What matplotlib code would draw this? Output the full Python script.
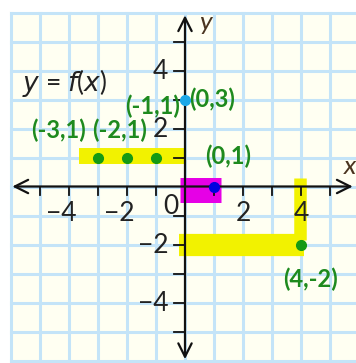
import numpy as np
import matplotlib
matplotlib.use('Agg')
import matplotlib.pyplot as plt

# grid range (units) and axis ticks
grid_min, grid_max = -6, 6
x_tick_labels = [-4, -2, 2, 4]
y_tick_labels = [4, 2, -2, -4]

# points marked on the graph
green_x = [-3, -2, -1, 4]
green_y = [1, 1, 1, -2]
cyan_pt = (0, 3)
blue_pt = (1, 0)

# highlighter strokes: (x0, y0, x1, y1, width in pt, colour)
strokes = [
    (-3.65, 1.05, 0.0, 1.05, 11.5, '#f2f200'),
    (-0.2, -2.0, 4.1, -2.0, 16, '#f2f200'),
    (3.95, 0.3, 3.95, -1.85, 9, '#f2f200'),
    (-0.17, -0.11, 1.24, -0.11, 18, '#e600e6'),
]

# handwritten point labels: (text, x, y)
notes = [
    ('(-3,1)', -5.3, 1.93),
    ('(-2,1)', -3.2, 1.93),
    ('(-1,1)', -2.05, 2.75),
    ('(0,3)', 0.15, 3.0),
    ('(0,1)', 0.7, 1.05),
    ('(4,-2)', 3.4, -3.2),
]

plt.rcParams['font.family'] = ['Lato', 'DejaVu Sans']

px = 29.0  # pixels per unit
fig = plt.figure(figsize=(3.56, 3.63), dpi=100)
ax = fig.add_axes([0, 0, 1, 1])
ax.set_xlim(-185 / px, 171 / px)
ax.set_ylim(-(363 - 186.5) / px, 186.5 / px)
ax.axis('off')

# cream paper and blue grid
ax.add_patch(plt.Rectangle((grid_min, grid_min), grid_max - grid_min, grid_max - grid_min,
                           facecolor='#fffff2', edgecolor='none', zorder=0))
for v in range(grid_min, grid_max + 1):
    ax.plot([v, v], [grid_min, grid_max], color='#c4e4f8', lw=2.2, zorder=1)
    ax.plot([grid_min, grid_max], [v, v], color='#c4e4f8', lw=2.2, zorder=1)

# highlights
for x0, y0, x1, y1, w, c in strokes:
    ax.plot([x0, x1], [y0, y1], color=c, lw=w, solid_capstyle='butt', zorder=2)

# axes with arrows
ax.annotate('', xy=(5.88, 0), xytext=(-6.05, 0),
            arrowprops=dict(arrowstyle='<->', lw=1.6, color='#111111', mutation_scale=24), zorder=3)
ax.annotate('', xy=(0, 6.0), xytext=(0, -6.05),
            arrowprops=dict(arrowstyle='<->', lw=1.6, color='#111111', mutation_scale=24), zorder=3)

# tick marks
for v in range(-5, 6):
    if v != 0:
        ax.plot([v, v], [0, -0.28], color='#111111', lw=1.3, zorder=3)
        ax.plot([-0.38, 0], [v, v], color='#111111', lw=1.3, zorder=3)

# tick labels
for v in x_tick_labels:
    if v < 0:
        ax.text(v + 0.27, -0.92, '\u2212%d' % abs(v), ha='right', va='center', fontsize=19, color='#222222')
    else:
        ax.text(v, -0.92, str(v), ha='center', va='center', fontsize=19, color='#222222')
for v in y_tick_labels:
    lab = str(v) if v > 0 else '\u2212%d' % abs(v)
    ax.text(-0.58, v - 0.05, lab, ha='right', va='center', fontsize=19, color='#222222')
ax.text(-0.47, -0.68, '0', ha='center', va='center', fontsize=19, color='#222222')

ax.text(5.68, 0.68, 'x', style='italic', ha='center', va='center', fontsize=19, color='#4a3420')
ax.text(0.7, 5.65, 'y', style='italic', ha='center', va='center', fontsize=19, color='#4a3420')
ax.text(-5.62, 3.57, '$y$ = $f$($x$)', ha='left', va='center', fontsize=19, color='#222222',
        math_fontfamily='dejavusans')

# points
ax.plot(green_x, green_y, 'o', color='#149a14', ms=7, zorder=4)
ax.plot([cyan_pt[0]], [cyan_pt[1]], 'o', color='#1ca8e8', ms=7, zorder=4)
ax.plot([blue_pt[0]], [blue_pt[1]], 'o', color='#0000e0', ms=7, zorder=4)

for t, x, y in notes:
    ax.text(x, y, t, ha='left', va='center', fontsize=17, color='#1e8a1e',
            fontweight='bold', zorder=5)

fig.savefig('out.png', dpi=100)
